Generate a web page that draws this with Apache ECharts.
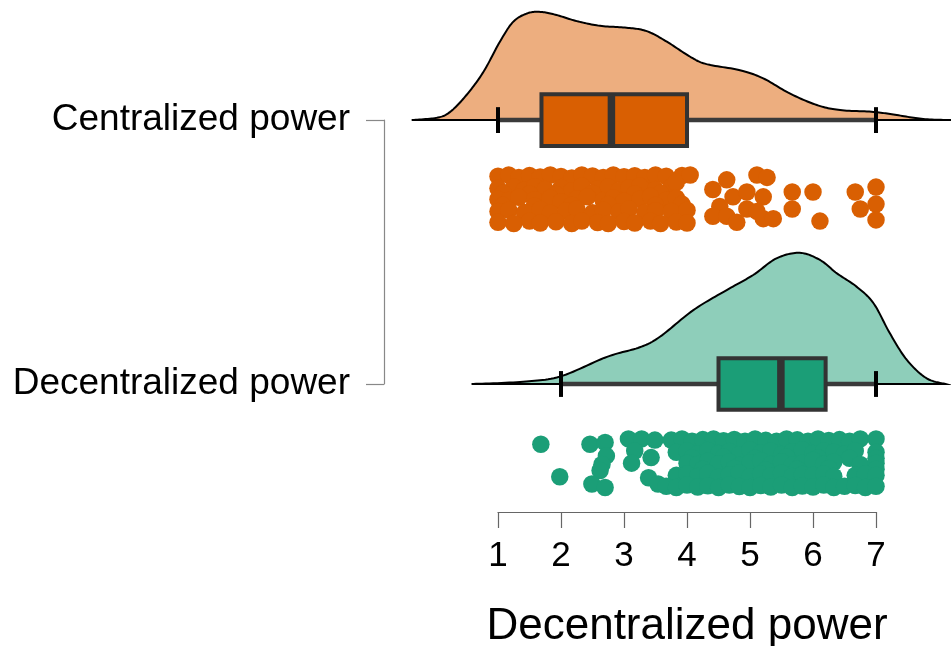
<!DOCTYPE html>
<html>
<head>
<meta charset="utf-8">
<script src="https://cdn.jsdelivr.net/npm/echarts@6/dist/echarts.min.js"></script>
<style>
    html, body { margin: 0; padding: 0; background: #fff; }
    #main { width: 951px; height: 646px; }
</style>
</head>
<body>
<div id="main"></div>
<script>
// groups on the y axis (bottom to top)
var groups = ['Decentralized power', 'Centralized power'];
var xTicks = [1, 2, 3, 4, 5, 6, 7];

// density outlines (x value, height in y-axis units)
var centralDensX = [-0.37, 0.03, 0.24, 0.50, 0.77, 1.03, 1.24, 1.46, 1.67, 1.93, 2.25, 2.62, 3.04, 3.36, 3.68, 4.05, 4.31, 4.84, 5.21, 5.63, 6.06, 6.43, 6.96, 7.33, 7.75, 8.19];
var centralDensH = [0, 0.009, 0.031, 0.095, 0.183, 0.297, 0.372, 0.404, 0.410, 0.398, 0.375, 0.357, 0.350, 0.337, 0.297, 0.240, 0.212, 0.189, 0.158, 0.101, 0.057, 0.038, 0.031, 0.019, 0.004, 0];
var decentralDensX = [0.58, 1.35, 1.98, 2.73, 3.25, 3.57, 4.10, 4.63, 5.05, 5.42, 5.79, 6.11, 6.38, 6.69, 6.96, 7.22, 7.49, 7.80, 8.10];
var decentralDensH = [0, 0.008, 0.028, 0.103, 0.139, 0.179, 0.280, 0.356, 0.413, 0.476, 0.497, 0.470, 0.419, 0.369, 0.306, 0.192, 0.091, 0.022, 0];

// box plots: [min, q1, median, q3, max]
var centralBox = [1, 1.69, 2.80, 4.0, 7];
var decentralBox = [2, 4.50, 5.49, 6.2, 7];

// raw points: [value, jitter -1..1]
var centralPoints = [
    [1.00, 0.95], [1.17, 1.0], [1.33, 0.9], [1.50, 0.98], [1.67, 0.92], [1.83, 1.0], [2.00, 0.94], [2.17, 0.88], [2.33, 1.0], [2.50, 0.96], [2.67, 0.9], [2.83, 1.0], [3.00, 0.93], [3.17, 0.97], [3.33, 0.9], [3.50, 1.0], [3.67, 0.95], [3.92, 0.98],
    [1.00, 0.45], [1.25, 0.5], [1.42, 0.38], [1.58, 0.52], [1.75, 0.4], [2.00, 0.48], [2.17, 0.35], [2.33, 0.55], [2.58, 0.42], [2.75, 0.5], [2.92, 0.36], [3.08, 0.47], [3.25, 0.55], [3.50, 0.4], [3.75, 0.5],
    [1.08, 0.25], [1.50, 0.22], [1.92, 0.2], [2.50, 0.25], [3.17, 0.22], [3.58, 0.25], [3.83, 0.7],
    [1.00, 0.0], [1.17, -0.05], [1.33, 0.08], [1.58, -0.02], [1.83, 0.05], [2.00, -0.1], [2.25, 0.02], [2.42, 0.1], [2.67, -0.05], [2.83, 0.06], [3.00, -0.08], [3.25, 0.0], [3.42, 0.12], [3.67, -0.04], [3.83, 0.05],
    [1.08, -0.25], [1.58, -0.28], [2.17, -0.25], [2.75, -0.22], [3.50, -0.25], [3.92, -0.2],
    [1.00, -0.5], [1.17, -0.45], [1.42, -0.55], [1.67, -0.42], [1.83, -0.58], [2.08, -0.48], [2.25, -0.4], [2.50, -0.56], [2.67, -0.45], [2.92, -0.52], [3.08, -0.4], [3.33, -0.55], [3.50, -0.47], [3.75, -0.5], [4.00, -0.45],
    [1.00, -0.95], [1.25, -1.0], [1.50, -0.9], [1.67, -0.98], [1.92, -0.93], [2.17, -1.0], [2.33, -0.9], [2.58, -0.96], [2.75, -1.0], [3.00, -0.92], [3.17, -0.98], [3.42, -0.9], [3.58, -1.0], [3.83, -0.94], [4.00, -0.98],
    [4.05, 1.0], [4.41, 0.4], [4.63, 0.8], [4.73, 0.1], [4.52, -0.3], [4.41, -0.7], [4.63, -0.7], [4.79, -0.95], [4.95, 0.3], [4.95, -0.4],
    [5.11, 1.0], [5.27, 0.9], [5.21, 0.1], [5.21, -0.8], [5.37, -0.8], [5.11, -0.5], [5.67, 0.3], [6.00, 0.3], [5.67, -0.4], [6.11, -0.9],
    [6.67, 0.3], [6.75, -0.4], [7.00, 0.5], [7.00, -0.2], [7.00, -0.85]
];
var decentralPoints = [
    [1.68, 0.78], [1.98, -0.56],
    [2.46, 0.78], [2.70, 0.85], [2.72, 0.3], [2.65, -0.05], [2.62, -0.3], [2.49, -0.86], [2.70, -1.0],
    [3.07, 1.0], [3.28, 1.0], [3.49, 0.95], [3.17, 0.5], [3.12, 0.0], [3.43, 0.23], [3.39, -0.6], [3.54, -0.86],
    [3.75, 0.95], [3.92, 1.0], [4.08, 0.9], [4.25, 0.97], [4.42, 1.0], [4.58, 0.92], [4.75, 0.98], [4.92, 0.9], [5.08, 1.0], [5.25, 0.94], [5.42, 0.9], [5.58, 1.0], [5.75, 0.96], [5.92, 0.9], [6.08, 1.0], [6.25, 0.93], [6.42, 0.97], [6.58, 0.9], [6.75, 1.0], [7.00, 1.0],
    [3.83, 0.45], [4.00, 0.5], [4.17, 0.38], [4.33, 0.52], [4.50, 0.4], [4.67, 0.48], [4.83, 0.35], [5.00, 0.55], [5.17, 0.42], [5.33, 0.5], [5.50, 0.36], [5.67, 0.47], [5.83, 0.55], [6.00, 0.4], [6.17, 0.5], [6.33, 0.45], [6.50, 0.38], [6.67, 0.5], [7.00, 0.45],
    [4.08, 0.22], [4.58, 0.25], [5.08, 0.2], [5.58, 0.25], [6.08, 0.22], [6.58, 0.2], [7.00, 0.2],
    [4.00, 0.0], [4.17, -0.05], [4.33, 0.08], [4.50, -0.02], [4.67, 0.05], [4.83, -0.1], [5.00, 0.02], [5.17, 0.1], [5.33, -0.05], [5.50, 0.06], [5.67, -0.08], [5.83, 0.0], [6.00, 0.12], [6.17, -0.04], [6.33, 0.05], [6.75, -0.05], [7.00, 0.0],
    [4.25, -0.25], [4.75, -0.22], [5.25, -0.28], [5.75, -0.25], [6.25, -0.22], [7.00, -0.25],
    [3.83, -0.5], [4.00, -0.45], [4.17, -0.55], [4.33, -0.42], [4.50, -0.58], [4.67, -0.48], [4.83, -0.4], [5.00, -0.56], [5.17, -0.45], [5.33, -0.52], [5.50, -0.4], [5.67, -0.55], [5.83, -0.47], [6.00, -0.5], [6.17, -0.45], [6.33, -0.55], [6.67, -0.5], [6.83, -0.45], [7.00, -0.5],
    [3.67, -0.95], [3.83, -1.0], [4.00, -0.9], [4.17, -0.98], [4.33, -0.93], [4.50, -1.0], [4.67, -0.9], [4.83, -0.96], [5.00, -1.0], [5.17, -0.92], [5.33, -0.98], [5.50, -0.9], [5.67, -1.0], [5.83, -0.94], [6.00, -0.98], [6.17, -0.9], [6.33, -1.0], [6.50, -0.95], [6.67, -0.92], [6.83, -1.0], [7.00, -0.95]
];

var FONT = '"Liberation Sans", Arial, sans-serif';
var ORANGE = '#D95F02', ORANGE_LIGHT = '#EDAE7F';
var GREEN = '#1B9E77', GREEN_LIGHT = '#8ECEBA';
var POINT_OFFSET = 0.30, JITTER = 0.092, BOX_HALF = 0.098, CAP_HALF = 0.049;

// catmull-rom smoothing of pixel points, only used for drawing
function smoothPath(pts, steps) {
    var out = [];
    for (var i = 0; i < pts.length - 1; i++) {
        var p0 = pts[i - 1] || pts[i], p1 = pts[i], p2 = pts[i + 1], p3 = pts[i + 2] || pts[i + 1];
        for (var s = 0; s < steps; s++) {
            var t = s / steps, t2 = t * t, t3 = t2 * t;
            out.push([0, 1].map(function (k) {
                return 0.5 * (2 * p1[k] + (-p0[k] + p2[k]) * t +
                    (2 * p0[k] - 5 * p1[k] + 4 * p2[k] - p3[k]) * t2 +
                    (-p0[k] + 3 * p1[k] - 3 * p2[k] + p3[k]) * t3);
            }));
        }
    }
    out.push(pts[pts.length - 1]);
    return out;
}

function densityRender(xs, hs, level, fill) {
    return function (params, api) {
        var baseY = api.coord([0, level])[1];
        var pts = xs.map(function (x, i) { return api.coord([x, level + hs[i]]); });
        var curve = smoothPath(pts, 14);
        curve.forEach(function (p) { if (p[1] > baseY) p[1] = baseY; });
        return {
            type: 'polygon',
            shape: { points: curve },
            style: { fill: fill, stroke: '#000', lineWidth: 2 }
        };
    };
}

function boxRender(b, level, fill) {
    return function (params, api) {
        var y = api.coord([0, level])[1];
        var px = function (v) { return api.coord([v, level])[0]; };
        var half = api.size([0, BOX_HALF])[1];
        var cap = api.size([0, CAP_HALF])[1];
        return {
            type: 'group',
            children: [
                { type: 'line', shape: { x1: px(b[0]), y1: y, x2: px(b[4]), y2: y }, style: { stroke: '#3a3a3a', lineWidth: 4.5 } },
                { type: 'line', shape: { x1: px(b[0]), y1: y - cap, x2: px(b[0]), y2: y + cap }, style: { stroke: '#000', lineWidth: 4 } },
                { type: 'line', shape: { x1: px(b[4]), y1: y - cap, x2: px(b[4]), y2: y + cap }, style: { stroke: '#000', lineWidth: 4 } },
                { type: 'rect', shape: { x: px(b[1]), y: y - half, width: px(b[3]) - px(b[1]), height: half * 2 }, style: { fill: fill, stroke: '#333', lineWidth: 4 } },
                { type: 'line', shape: { x1: px(b[2]), y1: y - half, x2: px(b[2]), y2: y + half }, style: { stroke: '#333', lineWidth: 7.5 } }
            ]
        };
    };
}

function toPoints(list, level) {
    return list.map(function (p) { return [p[0], level - POINT_OFFSET + p[1] * JITTER]; });
}

var myChart = echarts.init(document.getElementById('main'));

var option = {
    animation: false,
    backgroundColor: '#fff',
    grid: [
        { left: 403.5, right: 0, top: 0, bottom: 134, outerBoundsMode: 'none' },   // data
        { left: 498, right: 75, top: 0, bottom: 134, outerBoundsMode: 'none' },    // visible x axis
        { left: 384, right: 560, top: 120, bottom: 262, outerBoundsMode: 'none' }  // visible y axis
    ],
    xAxis: [
        { gridIndex: 0, type: 'value', min: -0.5, max: 8.19, show: false },
        {
            gridIndex: 1, type: 'value', min: xTicks[0], max: xTicks[xTicks.length - 1], interval: 1,
            axisLine: { lineStyle: { color: '#666', width: 1.2 } },
            axisTick: { length: 16, lineStyle: { color: '#666', width: 1.2 } },
            axisLabel: { color: '#000', fontSize: 35, fontFamily: FONT, margin: 27 },
            splitLine: { show: false },
            name: 'Decentralized power', nameLocation: 'middle', nameGap: 93,
            nameTextStyle: { color: '#000', fontSize: 44, fontFamily: FONT }
        },
        { gridIndex: 2, type: 'value', show: false }
    ],
    yAxis: [
        { gridIndex: 0, type: 'value', min: 0.515, max: 2.455, show: false },
        { gridIndex: 1, type: 'value', show: false },
        {
            gridIndex: 2, type: 'category', data: groups, boundaryGap: false,
            axisLine: { lineStyle: { color: '#888', width: 1.2 } },
            axisTick: { length: 18, lineStyle: { color: '#888', width: 1.2 } },
            axisLabel: { color: '#000', fontSize: 37, fontFamily: FONT, margin: 34, interval: 0 },
            splitLine: { show: false }
        }
    ],
    series: [
        { type: 'custom', xAxisIndex: 0, yAxisIndex: 0, z: 1, data: [[0, 2]], renderItem: densityRender(centralDensX, centralDensH, 2, ORANGE_LIGHT) },
        { type: 'custom', xAxisIndex: 0, yAxisIndex: 0, z: 1, data: [[0, 1]], renderItem: densityRender(decentralDensX, decentralDensH, 1, GREEN_LIGHT) },
        { type: 'custom', xAxisIndex: 0, yAxisIndex: 0, z: 2, data: [[0, 2]], renderItem: boxRender(centralBox, 2, ORANGE) },
        { type: 'custom', xAxisIndex: 0, yAxisIndex: 0, z: 2, data: [[0, 1]], renderItem: boxRender(decentralBox, 1, GREEN) },
        { type: 'scatter', xAxisIndex: 0, yAxisIndex: 0, z: 3, symbolSize: 17.5, itemStyle: { color: ORANGE, opacity: 1 }, data: toPoints(centralPoints, 2) },
        { type: 'scatter', xAxisIndex: 0, yAxisIndex: 0, z: 3, symbolSize: 17.5, itemStyle: { color: GREEN, opacity: 1 }, data: toPoints(decentralPoints, 1) }
    ]
};

myChart.setOption(option);
</script>
</body>
</html>
